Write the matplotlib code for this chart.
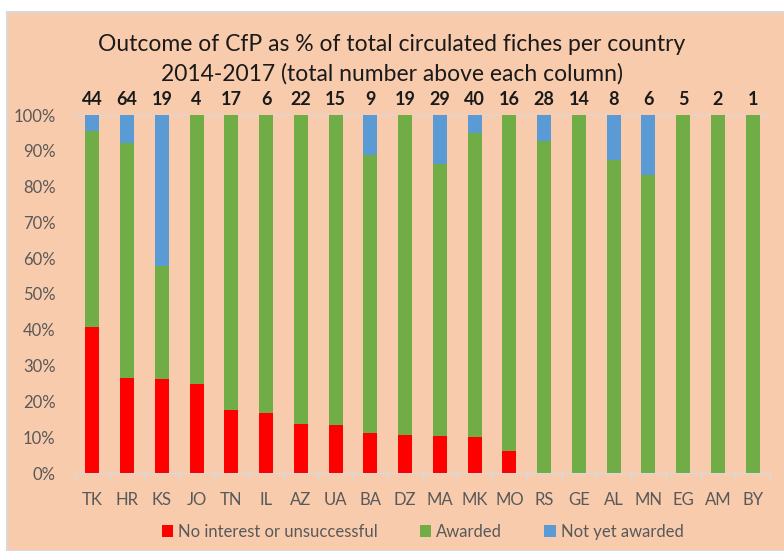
import numpy as np
import matplotlib.pyplot as plt
from matplotlib.patches import Rectangle

countries = ['TK', 'HR', 'KS', 'JO', 'TN', 'IL', 'AZ', 'UA', 'BA', 'DZ',
             'MA', 'MK', 'MO', 'RS', 'GE', 'AL', 'MN', 'EG', 'AM', 'BY']
totals = [44, 64, 19, 4, 17, 6, 22, 15, 9, 19, 29, 40, 16, 28, 14, 8, 6, 5, 2, 1]
unsuccessful = [18, 17, 5, 1, 3, 1, 3, 2, 1, 2, 3, 4, 1, 0, 0, 0, 0, 0, 0, 0]
not_yet = [2, 5, 8, 0, 0, 0, 0, 0, 1, 0, 4, 2, 0, 2, 0, 1, 1, 0, 0, 0]

tot = np.array(totals, dtype=float)
red = np.array(unsuccessful) / tot * 100
blue = np.array(not_yet) / tot * 100
green = 100 - red - blue

bg = '#F8CBAD'
plt.rcParams['font.family'] = ['Lato', 'DejaVu Sans']

fig = plt.figure(figsize=(7.84, 5.51), dpi=100)
fig.patch.set_facecolor('white')
fig.patches.append(Rectangle((7 / 784, 0), 1, 1 - 12 / 551, transform=fig.transFigure,
                             facecolor=bg, edgecolor='#D9D9D9', linewidth=1.5, zorder=-10))

ax = fig.add_axes([75 / 784, (551 - 473) / 551, 695 / 784, 358 / 551])
ax.set_facecolor('none')
x = np.arange(len(countries))
w = 0.4
ax.bar(x, red, w, color='#FF0000', label='No interest or unsuccessful', zorder=3)
ax.bar(x, green, w, bottom=red, color='#70AD47', label='Awarded', zorder=3)
ax.bar(x, blue, w, bottom=red + green, color='#5B9BD5', label='Not yet awarded', zorder=3)

for xi, t in zip(x, totals):
    ax.text(xi, 102, str(t), ha='center', va='bottom', fontsize=13,
            fontweight='bold', color='#1a1a1a')

ax.set_xlim(-0.5, len(countries) - 0.5)
ax.set_ylim(0, 100)
ax.set_yticks(np.arange(0, 101, 10))
ax.set_yticklabels([f'{v}%' for v in range(0, 101, 10)])
ax.set_xticks(x)
ax.set_xticklabels(countries)
ax.set_xticks(np.arange(-0.5, len(countries), 1), minor=True)
ax.tick_params(axis='x', which='major', length=0, pad=14, labelsize=12, labelcolor='#595959')
ax.tick_params(axis='x', which='minor', length=5, color='#D9D9D9', width=1)
ax.tick_params(axis='y', length=0, pad=14, labelsize=12, labelcolor='#595959')
for s in ['top', 'right', 'left']:
    ax.spines[s].set_visible(False)
ax.spines['bottom'].set_color('#D9D9D9')
ax.spines['bottom'].set_linewidth(1)
ax.axhline(100, color='#D9D9D9', linewidth=1, zorder=1)

fig.text(0.5, 1 - 59 / 551, 'Outcome of CfP as % of total circulated fiches per country\n'
         '2014-2017 (total number above each column)',
         ha='center', va='center', fontsize=16.5, color='#1a1a1a', linespacing=1.45)

ax.legend(loc='upper center', bbox_to_anchor=(0.5, -0.1), ncol=3, frameon=False,
          fontsize=12, labelcolor='#595959', handlelength=0.7, handleheight=0.7,
          handletextpad=0.3, columnspacing=2.5)

fig.savefig('out.png', dpi=100, facecolor=fig.get_facecolor())
